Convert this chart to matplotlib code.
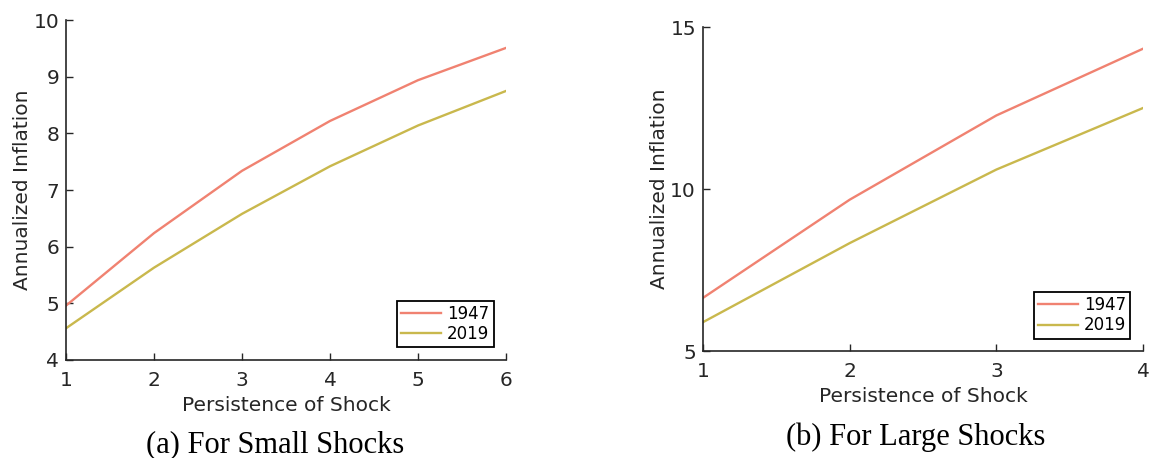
import matplotlib
matplotlib.use("Agg")
import matplotlib.pyplot as plt

# persistence of shock (quarters) and annualized inflation response
persist_small = [1, 2, 3, 4, 5, 6]
small_1947 = [4.96, 6.24, 7.34, 8.22, 8.94, 9.51]
small_2019 = [4.56, 5.63, 6.58, 7.42, 8.14, 8.75]

persist_large = [1, 2, 3, 4]
large_1947 = [6.64, 9.67, 12.27, 14.33]
large_2019 = [5.89, 8.33, 10.60, 12.50]

series_labels = ["1947", "2019"]
colors = ["#f08271", "#c9b84d"]
dark = "#262626"

fig = plt.figure(figsize=(11.5, 4.58), dpi=100)
ax_a = fig.add_axes([0.0574, 0.214, 0.3826, 0.742])
ax_b = fig.add_axes([0.6113, 0.2336, 0.3826, 0.7074])


def style(ax, xs, ys_list, ylim, yticks, caption, cap_x, cap_y):
    for ys, lab, c in zip(ys_list, series_labels, colors):
        ax.plot(xs, ys, color=c, lw=1.7, label=lab)
    ax.set_xlim(xs[0], xs[-1])
    ax.set_ylim(*ylim)
    ax.set_xticks(xs)
    ax.set_yticks(yticks)
    for s in ("top", "right"):
        ax.spines[s].set_visible(False)
    for s in ("left", "bottom"):
        ax.spines[s].set_color(dark)
        ax.spines[s].set_linewidth(1.2)
    ax.tick_params(direction="in", length=5, width=1.0, colors=dark,
                   labelsize=14.5, pad=5)
    ax.tick_params(axis="x", pad=8)
    ax.set_xlabel("Persistence of Shock", fontsize=14.5, color=dark, labelpad=4)
    ax.set_ylabel("Annualized Inflation", fontsize=14.5, color=dark, labelpad=1)
    leg = ax.legend(loc="lower right", fontsize=12, fancybox=False,
                    framealpha=1, edgecolor="black", handlelength=2.4,
                    borderpad=0.25, labelspacing=0.15, handletextpad=0.35,
                    borderaxespad=0.75)
    leg.get_frame().set_linewidth(1.3)
    ax.text(cap_x, cap_y, caption, transform=ax.transAxes, ha="center",
            va="center", fontsize=22, family="Liberation Serif", color="black")


style(ax_a, persist_small, [small_1947, small_2019], (4, 10),
      [4, 5, 6, 7, 8, 9, 10], "(a) For Small Shocks", 0.475, -0.248)
style(ax_b, persist_large, [large_1947, large_2019], (5, 15),
      [5, 10, 15], "(b) For Large Shocks", 0.484, -0.265)

fig.savefig("out.png", dpi=100)
